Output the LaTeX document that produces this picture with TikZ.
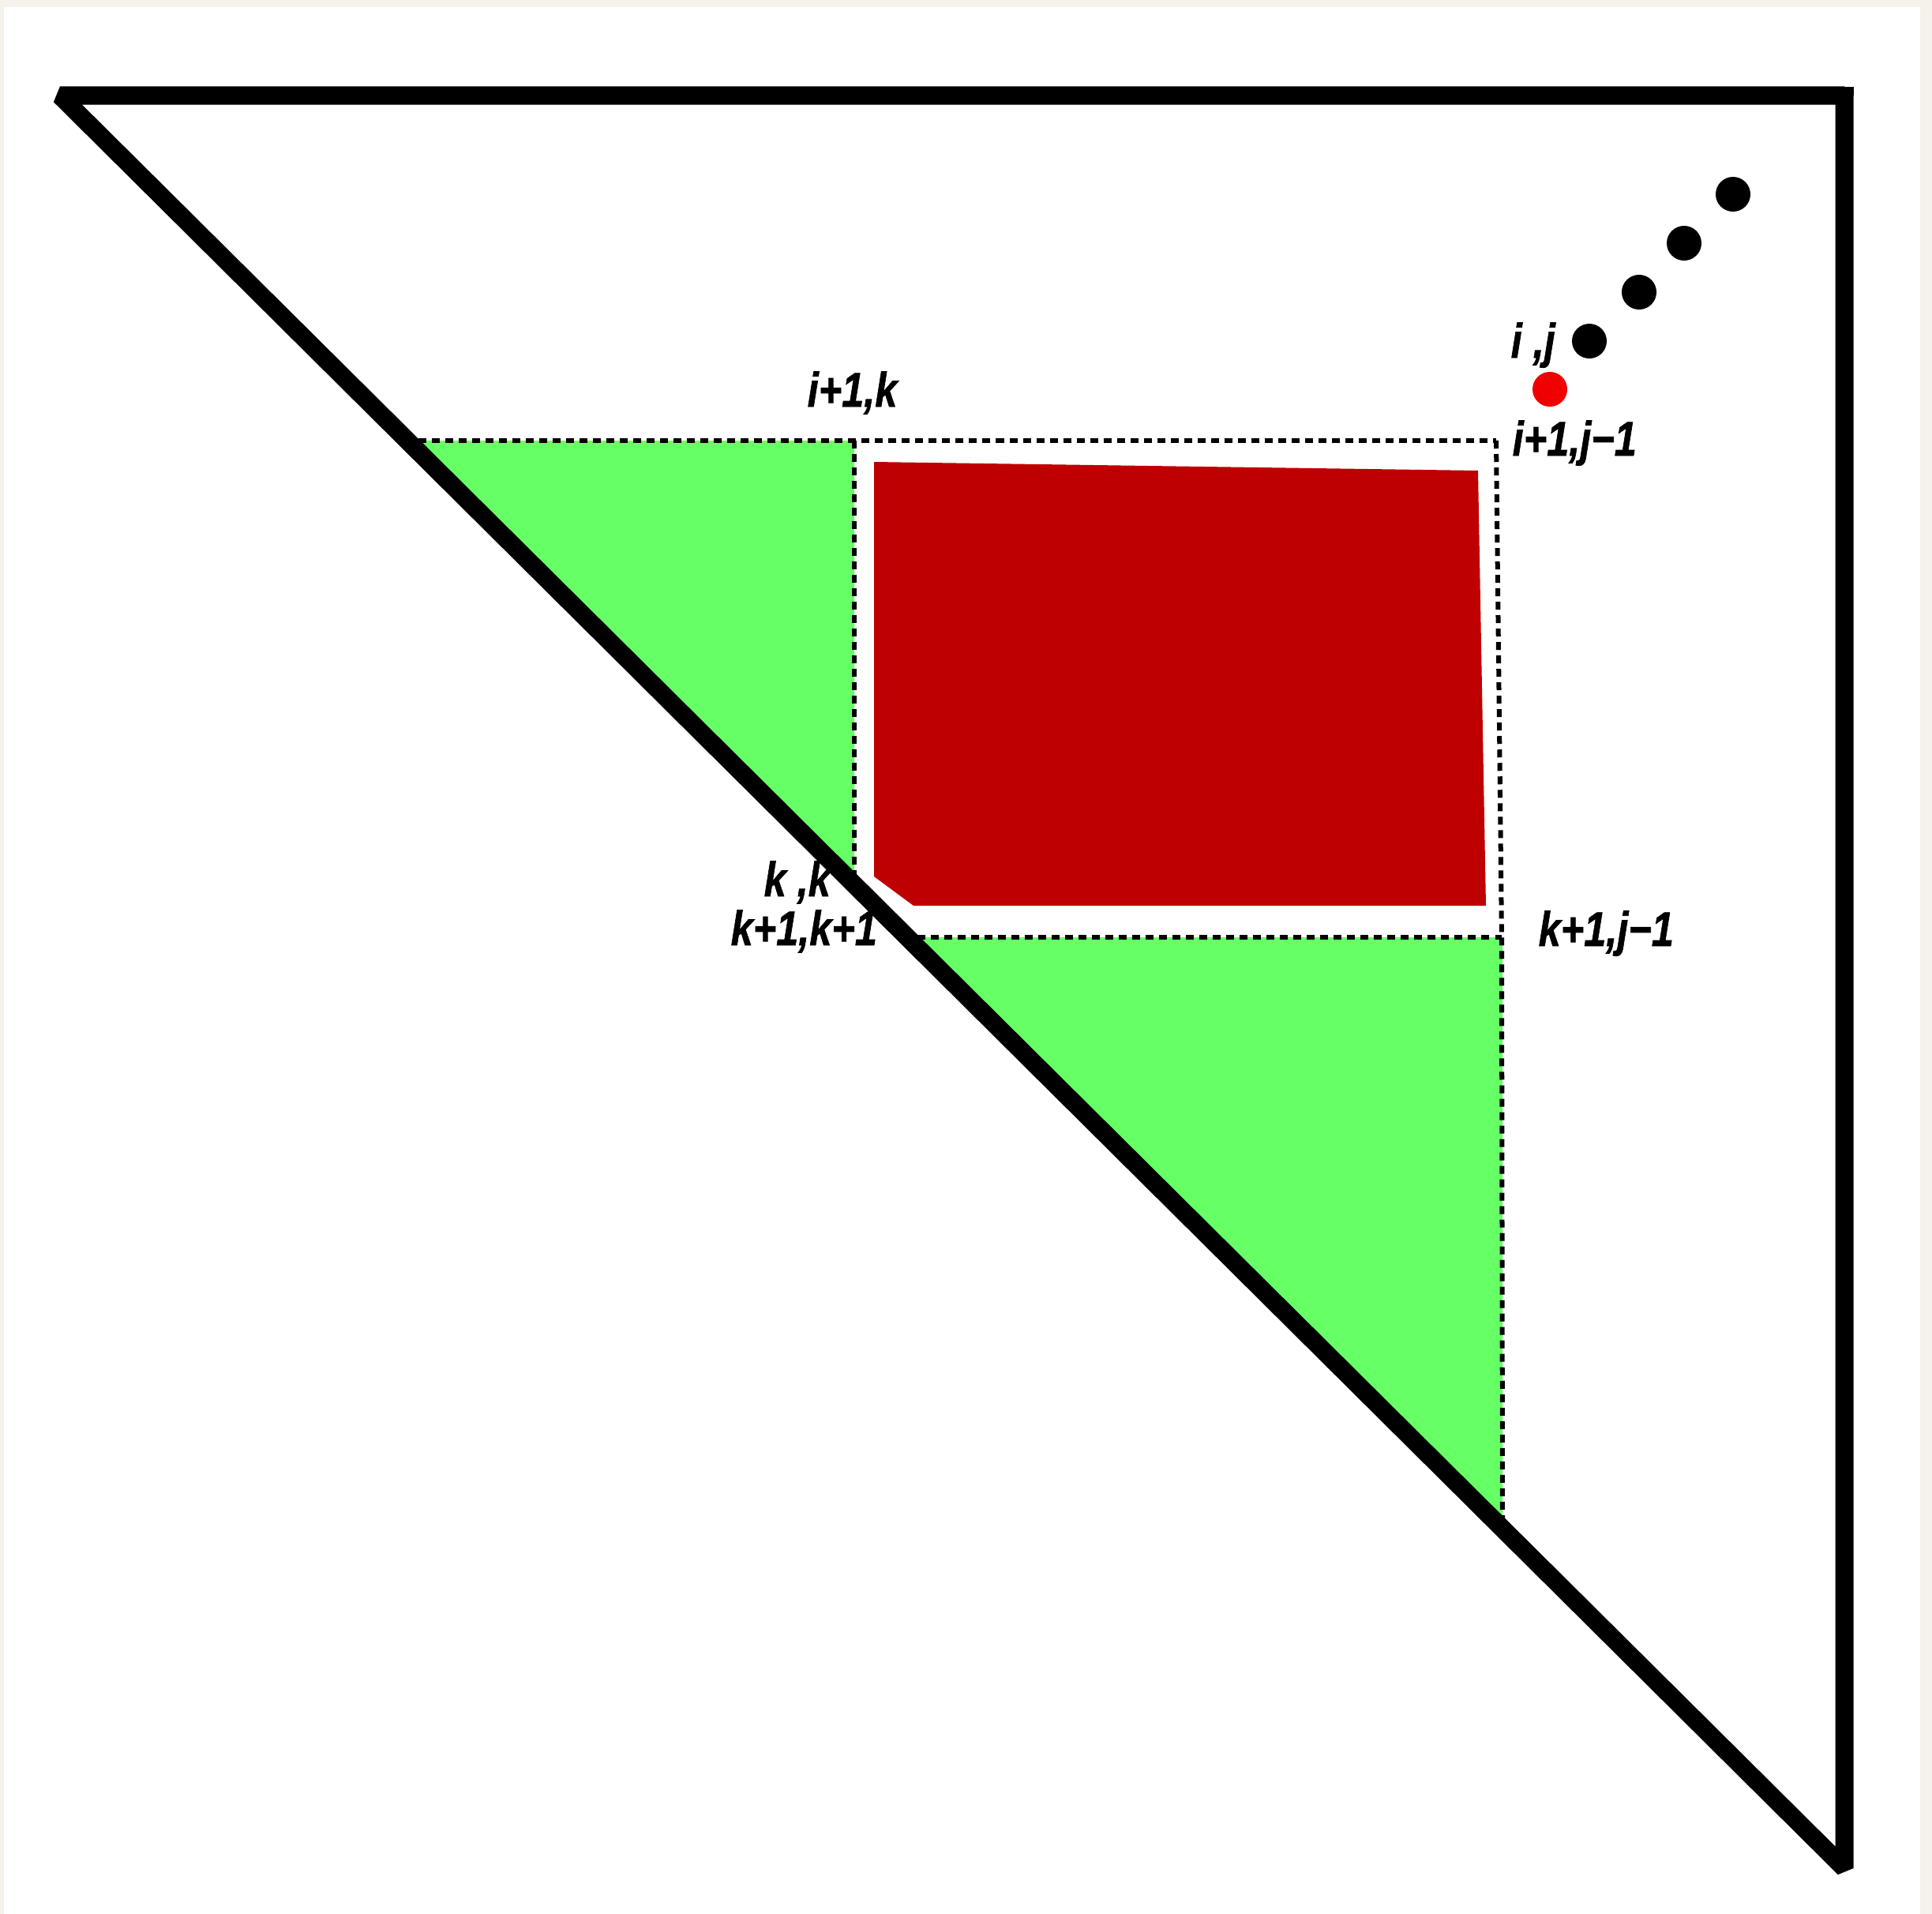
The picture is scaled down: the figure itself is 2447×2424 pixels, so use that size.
\documentclass[tikz,border=0pt]{standalone}
\usepackage{fontspec}
\setmainfont{Liberation Sans}
\newfontfamily\lblfont[BoldItalicFeatures={FakeBold=1.2}]{Liberation Sans}
\definecolor{cream}{RGB}{245,242,233}
\definecolor{lgreen}{RGB}{102,255,102}
\definecolor{dred}{RGB}{190,0,0}
\definecolor{bred}{RGB}{240,0,0}
\begin{document}
\begin{tikzpicture}[x=0.01cm,y=-0.01cm,
  frame/.style={line width=0.23cm, line join=bevel},
  dotline/.style={line width=0.06cm, dash pattern=on 0.1cm off 0.07cm},
  lbl/.style={anchor=base west, inner sep=0pt, font=\fontsize{17.5}{20}\lblfont\bfseries\itshape},
  dot/.style={circle, fill=black, inner sep=0pt, minimum size=0.44cm}]
\useasboundingbox (0,0) rectangle (2447,2424);
\fill[cream] (0,0) rectangle (2447,2424);
\fill[white] (5,9) rectangle (2432,2424);
% green triangles
\fill[lgreen] (513,558) -- (1082,558) -- (1082,1124) -- cycle;
\fill[lgreen] (1145,1187) -- (1903,1187) -- (1903,1940) -- cycle;
% red block
\fill[dred] (1107,585) -- (1872,596) -- (1882,1147) -- (1157,1147) -- (1107,1110) -- cycle;
% dotted lines
\coordinate (tl) at (513,558);
\coordinate (tm) at (1082,558);
\coordinate (tr) at (1895,558);
\coordinate (ml) at (1082,1124);
\coordinate (bl) at (1145,1187);
\coordinate (br) at (1902,1187);
\coordinate (bb) at (1903,1930);
\draw[dotline] (tl) -- (tr);
\draw[dotline] (tm) -- (ml);
\draw[dotline] (tr) -- (br) -- (bb);
\draw[dotline] (bl) -- (br);
% main triangle
\coordinate (A) at (76,121);
\coordinate (B) at (2336,121);
\coordinate (C) at (2336,2366);
\draw[frame] (A) -- (B) -- (C) -- cycle;
\fill (2336,109.5) rectangle (2347.5,121);
% dots
\node[dot] (d1) at (2013,432) {};
\node[dot] (d2) at (2076,370) {};
\node[dot] (d3) at (2133,308) {};
\node[dot] (d4) at (2195,246) {};
\node[dot, fill=bred] (rd) at (1963,493) {};
% labels
\node[lbl] (lij) at (1913,453) {\scalebox{0.82}[1]{i ,j}};
\node[lbl] (li1j1) at (1915,577) {\scalebox{0.82}[1]{i+1,j−1}};
\node[lbl] (li1k) at (1022,515) {\scalebox{0.82}[1]{i+1,k}};
\node[lbl] (lkk) at (967,1135) {\scalebox{0.82}[1]{k ,k}};
\node[lbl] (lk1k1) at (925,1197) {\scalebox{0.82}[1]{k+1,k+1}};
\node[lbl] (lk1j1) at (1948,1198) {\scalebox{0.82}[1]{k+1,j−1}};
\end{tikzpicture}
\end{document}
